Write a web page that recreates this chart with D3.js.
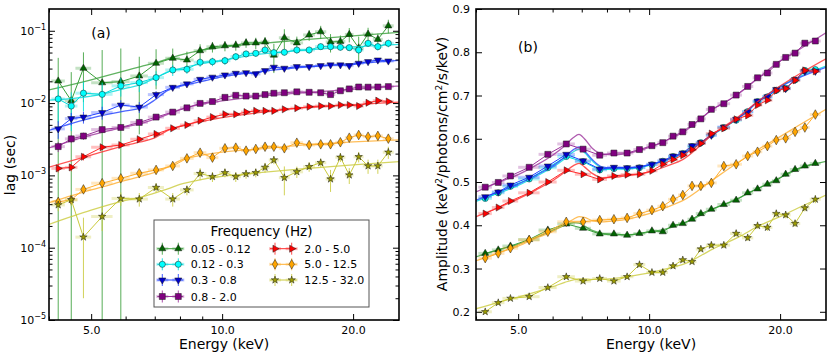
<!DOCTYPE html>
<html><head><meta charset="utf-8">
<script src="https://cdn.jsdelivr.net/npm/d3@7"></script>
<style>body{margin:0;background:#fff;} svg text{font-family:"DejaVu Sans",sans-serif;}</style>
</head><body><svg id="c" width="830" height="357"></svg>
<script>
// ---------- data ----------
const energy    = [4.2, 4.5, 4.8, 5.3, 5.85, 6.45, 7.05, 7.7, 8.3, 8.9, 9.5, 10.15, 10.75, 11.35, 11.95, 12.55, 13.15, 13.9, 14.85, 15.85, 16.85, 17.75, 18.7, 19.6, 20.6, 21.65, 22.8, 24.1];
const energyErr = [0.15, 0.15, 0.2, 0.3, 0.28, 0.3, 0.3, 0.3, 0.3, 0.3, 0.3, 0.3, 0.3, 0.3, 0.3, 0.3, 0.35, 0.4, 0.5, 0.5, 0.5, 0.45, 0.5, 0.45, 0.55, 0.6, 0.6, 0.7];
const freqLabels = ["0.05 - 0.12", "0.12 - 0.3", "0.3 - 0.8", "0.8 - 2.0", "2.0 - 5.0", "5.0 - 12.5", "12.5 - 32.0"];

// lags (sec)
const lag005 = [0.0202, 0.0108, 0.0303, 0.0191, 0.0198, 0.0237, 0.0355, 0.0417, 0.0394, 0.0530, 0.0600, 0.0620, 0.0630, 0.0680, 0.0680, 0.0700, 0.0460, 0.0800, 0.0680, 0.0875, 0.0970, 0.0700, 0.0710, 0.0890, 0.0580, 0.0900, 0.0760, 0.1170];
const lag012 = [0.0114, 0.0091, 0.0137, 0.0132, 0.0173, 0.0192, 0.0225, 0.0287, 0.0293, 0.0367, 0.0374, 0.0386, 0.0438, 0.0478, 0.0488, 0.0542, 0.0498, 0.0504, 0.0542, 0.0542, 0.0603, 0.0603, 0.0591, 0.0584, 0.0542, 0.0671, 0.0603, 0.0671];
const lag03  = [0.0044, 0.0061, 0.0064, 0.0074, 0.0094, 0.0088, 0.0131, 0.0165, 0.0184, 0.0213, 0.0228, 0.0245, 0.0258, 0.0263, 0.0253, 0.0281, 0.0313, 0.0303, 0.0319, 0.0319, 0.0329, 0.0337, 0.0337, 0.0329, 0.0355, 0.0374, 0.0394, 0.0382];
const lag08  = [0.0025, 0.0032, 0.0035, 0.0043, 0.0046, 0.0054, 0.0064, 0.0075, 0.0086, 0.0099, 0.0105, 0.0120, 0.0128, 0.0125, 0.0125, 0.0131, 0.0137, 0.0139, 0.0143, 0.0141, 0.0139, 0.0131, 0.0148, 0.0157, 0.0167, 0.0166, 0.0167, 0.0169];
const lag2   = [0.00125, 0.00129, 0.00181, 0.00245, 0.00263, 0.00316, 0.00374, 0.00448, 0.00498, 0.0057, 0.0064, 0.0070, 0.0070, 0.0075, 0.0078, 0.0078, 0.0078, 0.0082, 0.0085, 0.0089, 0.0091, 0.0091, 0.0094, 0.0094, 0.0091, 0.0101, 0.0108, 0.0105];
const lag5   = [0.00043, 0.00046, 0.00064, 0.00078, 0.00091, 0.00107, 0.00119, 0.00135, 0.00172, 0.00206, 0.00176, 0.00237, 0.00242, 0.00220, 0.00232, 0.00249, 0.00249, 0.00237, 0.00283, 0.00263, 0.00269, 0.00269, 0.00287, 0.00332, 0.00362, 0.00343, 0.00352, 0.00322];
const lag125 = [0.00039, 0.00046, 0.00014, 0.00027, 0.00048, 0.00047, 0.00068, 0.00047, 0.00063, 0.00106, 0.00096, 0.00109, 0.00096, 0.00105, 0.00109, 0.00129, 0.00163, 0.00093, 0.00112, 0.00132, 0.00150, 0.00089, 0.00178, 0.00101, 0.00181, 0.00135, 0.00135, 0.00209];

// lag errors (sec)
const lagErr005 = [0.022, 0.016, 0.020, 0.035, 0.037, 0.020, 0.020, 0.015, 0.012, 0.012, 0.010, 0.010, 0.010, 0.010, 0.012, 0.012, 0.020, 0.025, 0.015, 0.015, 0.020, 0.020, 0.015, 0.020, 0.025, 0.020, 0.015, 0.025];
const lagErr012 = [0.006, 0.005, 0.006, 0.006, 0.005, 0.005, 0.005, 0.005, 0.004, 0.005, 0.005, 0.005, 0.005, 0.005, 0.005, 0.005, 0.005, 0.005, 0.006, 0.006, 0.006, 0.006, 0.006, 0.006, 0.007, 0.007, 0.007, 0.008];
const lagErr03  = [0.0012, 0.0012, 0.0012, 0.0015, 0.0015, 0.0015, 0.0015, 0.0012, 0.0012, 0.0012, 0.0012, 0.0012, 0.0012, 0.0012, 0.0012, 0.0012, 0.0015, 0.0015, 0.0015, 0.0015, 0.0015, 0.0015, 0.0015, 0.0015, 0.0018, 0.0018, 0.0018, 0.0020];
const lagErr08  = [0.0004, 0.0004, 0.0004, 0.0004, 0.0004, 0.0004, 0.0004, 0.0004, 0.0004, 0.0004, 0.0004, 0.0005, 0.0005, 0.0005, 0.0005, 0.0005, 0.0005, 0.0005, 0.0005, 0.0005, 0.0005, 0.0006, 0.0006, 0.0006, 0.0006, 0.0006, 0.0006, 0.0007];
const lagErr2   = [0.00015, 0.00015, 0.0002, 0.0002, 0.0002, 0.0002, 0.0002, 0.00025, 0.00025, 0.0003, 0.0003, 0.0003, 0.0003, 0.0003, 0.0003, 0.0003, 0.0003, 0.0003, 0.0004, 0.0004, 0.0004, 0.0004, 0.0004, 0.0004, 0.0004, 0.0005, 0.0005, 0.0005];
const lagErr5   = [0.00005, 0.00005, 0.00006, 0.00006, 0.00007, 0.00008, 0.00008, 0.0001, 0.0001, 0.0001, 0.0001, 0.00012, 0.00012, 0.00012, 0.00012, 0.00012, 0.00012, 0.00012, 0.00015, 0.00015, 0.00015, 0.00015, 0.00015, 0.00018, 0.0002, 0.0002, 0.0002, 0.0002];
const lagErr125 = [0.00007, 0.00008, 0.00012, 0.0001, 0.0001, 0.0001, 0.0001, 0.0001, 0.0001, 0.0002, 0.00015, 0.00015, 0.00015, 0.00015, 0.00015, 0.0002, 0.0002, 0.0004, 0.0002, 0.0002, 0.0002, 0.0003, 0.00025, 0.00025, 0.0003, 0.0003, 0.0003, 0.0004];

// lag models
const lagModelEnergy = [4, 5, 6, 6.5, 7, 7.5, 8, 9, 10, 12, 15, 20, 25.5];
const lagModel005 = [0.0152, 0.021, 0.028, 0.032, 0.036, 0.041, 0.046, 0.054, 0.059, 0.066, 0.074, 0.085, 0.095];
const lagModel012 = [0.0110, 0.0125, 0.016, 0.018, 0.022, 0.027, 0.030, 0.035, 0.039, 0.047, 0.053, 0.060, 0.065];
const lagModel03  = [0.0042, 0.0062, 0.0078, 0.0085, 0.011, 0.015, 0.017, 0.020, 0.023, 0.027, 0.031, 0.035, 0.039];
const lagModel08  = [0.0024, 0.0036, 0.0047, 0.0052, 0.0060, 0.0070, 0.0082, 0.0097, 0.0107, 0.0123, 0.0137, 0.0155, 0.0172];
const lagModel2   = [0.0013, 0.0019, 0.0026, 0.0029, 0.0033, 0.0042, 0.0048, 0.0056, 0.0063, 0.0073, 0.0085, 0.0095, 0.0103];
const lagModel5   = [0.00042, 0.00063, 0.00085, 0.00097, 0.0011, 0.0013, 0.0016, 0.0019, 0.0021, 0.0023, 0.0026, 0.0029, 0.0031];
const lagModel125 = [0.00021, 0.00033, 0.00045, 0.0005, 0.00057, 0.00065, 0.00075, 0.00088, 0.00097, 0.00108, 0.00122, 0.0014, 0.00155];

// amplitudes (keV^2/photons/cm^2/s/keV)
const amp005 = [0.335, 0.343, 0.352, 0.367, 0.389, 0.403, 0.393, 0.380, 0.380, 0.377, 0.381, 0.387, 0.385, 0.400, 0.404, 0.414, 0.427, 0.437, 0.448, 0.458, 0.475, 0.484, 0.495, 0.503, 0.518, 0.529, 0.537, 0.543];
const amp012 = [0.462, 0.475, 0.490, 0.507, 0.533, 0.559, 0.547, 0.528, 0.531, 0.531, 0.533, 0.540, 0.548, 0.559, 0.566, 0.582, 0.591, 0.609, 0.626, 0.643, 0.663, 0.686, 0.697, 0.712, 0.717, 0.736, 0.758, 0.760];
const amp03  = [0.466, 0.477, 0.493, 0.511, 0.537, 0.564, 0.549, 0.530, 0.534, 0.533, 0.534, 0.541, 0.549, 0.560, 0.567, 0.584, 0.591, 0.608, 0.627, 0.645, 0.662, 0.687, 0.697, 0.714, 0.716, 0.737, 0.756, 0.756];
const amp08  = [0.488, 0.499, 0.514, 0.534, 0.564, 0.588, 0.576, 0.562, 0.567, 0.567, 0.575, 0.584, 0.591, 0.606, 0.616, 0.633, 0.646, 0.668, 0.681, 0.701, 0.721, 0.741, 0.752, 0.772, 0.788, 0.798, 0.821, 0.826];
const amp2   = [0.427, 0.441, 0.456, 0.475, 0.500, 0.527, 0.518, 0.506, 0.514, 0.517, 0.518, 0.526, 0.541, 0.552, 0.562, 0.575, 0.589, 0.612, 0.624, 0.645, 0.654, 0.678, 0.689, 0.711, 0.716, 0.735, 0.758, 0.756];
const amp5   = [0.324, 0.335, 0.347, 0.366, 0.385, 0.408, 0.408, 0.412, 0.414, 0.417, 0.427, 0.435, 0.444, 0.460, 0.470, 0.491, 0.491, 0.498, 0.537, 0.541, 0.560, 0.570, 0.583, 0.597, 0.601, 0.616, 0.626, 0.656];
const amp125 = [0.200, 0.221, 0.231, 0.235, 0.256, 0.281, 0.271, 0.277, 0.271, 0.281, 0.309, 0.291, 0.291, 0.306, 0.320, 0.316, 0.345, 0.354, 0.354, 0.381, 0.371, 0.399, 0.395, 0.427, 0.424, 0.404, 0.440, 0.460];
const ampErr     = [0.003, 0.003, 0.003, 0.003, 0.003, 0.003, 0.003, 0.003, 0.003, 0.003, 0.003, 0.003, 0.003, 0.003, 0.003, 0.003, 0.003, 0.004, 0.004, 0.004, 0.004, 0.004, 0.004, 0.004, 0.005, 0.005, 0.005, 0.005];
const ampErrHigh = [0.005, 0.005, 0.005, 0.005, 0.005, 0.005, 0.005, 0.005, 0.005, 0.005, 0.006, 0.006, 0.006, 0.006, 0.006, 0.006, 0.006, 0.007, 0.007, 0.007, 0.007, 0.007, 0.008, 0.008, 0.008, 0.008, 0.008, 0.009];

// amplitude models
const ampModelEnergy = [4.0, 4.5, 5.0, 5.5, 6.0, 6.4, 6.7, 6.9, 7.1, 7.4, 7.8, 8.3, 9, 10, 11, 12, 14, 16, 18, 20, 22, 25.5];
const ampModel005 = [0.327, 0.343, 0.356, 0.372, 0.388, 0.400, 0.406, 0.405, 0.398, 0.388, 0.381, 0.378, 0.378, 0.384, 0.392, 0.405, 0.437, 0.462, 0.488, 0.510, 0.530, 0.548];
const ampModel012 = [0.455, 0.474, 0.492, 0.513, 0.534, 0.554, 0.570, 0.576, 0.568, 0.549, 0.533, 0.530, 0.531, 0.539, 0.551, 0.566, 0.609, 0.647, 0.690, 0.721, 0.742, 0.768];
const ampModel03  = [0.458, 0.477, 0.495, 0.516, 0.537, 0.558, 0.575, 0.581, 0.572, 0.552, 0.535, 0.532, 0.533, 0.540, 0.552, 0.567, 0.610, 0.648, 0.690, 0.720, 0.740, 0.765];
const ampModel08  = [0.477, 0.499, 0.517, 0.539, 0.562, 0.584, 0.603, 0.610, 0.600, 0.578, 0.565, 0.563, 0.567, 0.580, 0.597, 0.616, 0.668, 0.703, 0.744, 0.780, 0.805, 0.845];
const ampModel2   = [0.420, 0.441, 0.461, 0.482, 0.503, 0.523, 0.538, 0.543, 0.535, 0.520, 0.510, 0.511, 0.515, 0.523, 0.537, 0.553, 0.610, 0.650, 0.690, 0.722, 0.748, 0.785];
const ampModel5   = [0.318, 0.336, 0.352, 0.370, 0.386, 0.402, 0.414, 0.420, 0.418, 0.411, 0.408, 0.410, 0.415, 0.427, 0.442, 0.458, 0.505, 0.545, 0.578, 0.605, 0.630, 0.668];
const ampModel125 = [0.207, 0.222, 0.234, 0.246, 0.258, 0.268, 0.274, 0.276, 0.276, 0.275, 0.275, 0.277, 0.282, 0.290, 0.300, 0.310, 0.345, 0.372, 0.400, 0.420, 0.440, 0.470];

// axis ticks
const energyMajorTicks = [5, 10, 20];
const energyMinorTicks = [4, 6, 7, 8, 9];
const lagDecades = [1e-5, 1e-4, 1e-3, 1e-2, 1e-1];
const ampTicks = [0.2, 0.3, 0.4, 0.5, 0.6, 0.7, 0.8, 0.9];

// ---------- styling table ----------
const series = [
  {name: freqLabels[0], lag: lag005, lagErr: lagErr005, lagModel: lagModel005, amp: amp005, ampErr: ampErr, ampModel: ampModel005, marker: "triUp",    fill: "#006400", line: "#3a9f3a"},
  {name: freqLabels[1], lag: lag012, lagErr: lagErr012, lagModel: lagModel012, amp: amp012, ampErr: ampErr, ampModel: ampModel012, marker: "circle",   fill: "#00ffff", line: "#00dcdc"},
  {name: freqLabels[2], lag: lag03,  lagErr: lagErr03,  lagModel: lagModel03,  amp: amp03,  ampErr: ampErr, ampModel: ampModel03,  marker: "triDown",  fill: "#0000cc", line: "#2040ff"},
  {name: freqLabels[3], lag: lag08,  lagErr: lagErr08,  lagModel: lagModel08,  amp: amp08,  ampErr: ampErr, ampModel: ampModel08,  marker: "square",   fill: "#800080", line: "#9c339c"},
  {name: freqLabels[4], lag: lag2,   lagErr: lagErr2,   lagModel: lagModel2,   amp: amp2,   ampErr: ampErr, ampModel: ampModel2,   marker: "triRight", fill: "#ff0000", line: "#ff2a2a"},
  {name: freqLabels[5], lag: lag5,   lagErr: lagErr5,   lagModel: lagModel5,   amp: amp5,   ampErr: ampErr, ampModel: ampModel5,   marker: "diamond",  fill: "#ffa500", line: "#ffae2e"},
  {name: freqLabels[6], lag: lag125, lagErr: lagErr125, lagModel: lagModel125, amp: amp125, ampErr: ampErrHigh, ampModel: ampModel125, marker: "star", fill: "#9c9c00", line: "#caca3c"}
];

// ---------- setup ----------
const svg = d3.select("#c");
const FONT = "DejaVu Sans, sans-serif";

const xL = d3.scaleLog().domain([4, 25.5]).range([49, 399]);
const yL = d3.scaleLog().domain([1e-5, 0.2]).range([320, 9]);
const xR = d3.scaleLog().domain([4, 25.5]).range([476, 826]);
const yR = d3.scaleLinear().domain([0.181, 0.9]).range([320, 9]);

const defs = svg.append("defs");
defs.append("clipPath").attr("id", "clipL").append("rect").attr("x", 49).attr("y", 9).attr("width", 350).attr("height", 311);
defs.append("clipPath").attr("id", "clipR").append("rect").attr("x", 476).attr("y", 9).attr("width", 350).attr("height", 311);

function markerPath(type) {
  switch (type) {
    case "triUp":    return d3.symbol(d3.symbolTriangle, 22)();
    case "triDown":  return d3.symbol(d3.symbolTriangle, 22)();
    case "triRight": return d3.symbol(d3.symbolTriangle, 22)();
    case "circle":   return d3.symbol(d3.symbolCircle, 30)();
    case "square":   return d3.symbol(d3.symbolSquare, 36)();
    case "star":     return d3.symbol(d3.symbolStar, 17)();
    case "diamond":  return "M0,-4.8L2.7,0L0,4.8L-2.7,0Z";
  }
}
function markerRot(type) {
  return type === "triDown" ? 180 : type === "triRight" ? 90 : 0;
}

function drawPanel(g, x, y, valueKey, errKey, modelKey, modelE, clipId, isLog) {
  const plot = g.append("g").attr("clip-path", `url(#${clipId})`);
  const ymin = y.domain()[0];
  series.forEach(s => {
    const vals = s[valueKey], errs = s[errKey];
    const pts = energy.map((e, i) => ({e, v: vals[i], err: errs[i], ee: energyErr[i]}));
    const sg = plot.append("g");
    sg.selectAll(".he").data(pts).join("line")
      .attr("x1", d => x(d.e - d.ee)).attr("x2", d => x(d.e + d.ee))
      .attr("y1", d => y(d.v)).attr("y2", d => y(d.v))
      .attr("stroke", s.line).attr("stroke-width", 3).attr("stroke-opacity", 0.3);
    sg.selectAll(".ve").data(pts).join("line")
      .attr("x1", d => x(d.e)).attr("x2", d => x(d.e))
      .attr("y1", d => y(d.v + d.err))
      .attr("y2", d => { const lo = d.v - d.err; return (isLog && lo <= ymin) ? y(ymin) + 5 : y(lo); })
      .attr("stroke", s.line).attr("stroke-width", 1).attr("stroke-opacity", 0.85);
    const mvals = s[modelKey];
    sg.append("path")
      .datum(modelE.map((e, i) => [e, mvals[i]]))
      .attr("d", d3.line().x(d => x(d[0])).y(d => y(d[1])).curve(d3.curveMonotoneX))
      .attr("fill", "none").attr("stroke", s.line).attr("stroke-width", 1.3).attr("stroke-opacity", 0.8);
    sg.append("path").datum(pts)
      .attr("d", d3.line().x(d => x(d.e)).y(d => y(d.v)))
      .attr("fill", "none").attr("stroke", s.line).attr("stroke-width", 1);
    sg.selectAll(".m").data(pts).join("path")
      .attr("d", markerPath(s.marker))
      .attr("transform", d => `translate(${x(d.e)},${y(d.v)}) rotate(${markerRot(s.marker)})`)
      .attr("fill", s.fill).attr("stroke", "#1a1a1a").attr("stroke-width", 0.5);
  });
}

function xAxes(g, x) {
  const bot = g.append("g").attr("transform", "translate(0,320)")
    .call(d3.axisBottom(x).tickValues(energyMajorTicks).tickFormat(d3.format(".1f")).tickSizeInner(-6).tickSizeOuter(0).tickPadding(6));
  bot.append("g").call(d3.axisBottom(x).tickValues(energyMinorTicks).tickFormat("").tickSizeInner(-3.5).tickSizeOuter(0));
  const top = g.append("g").attr("transform", "translate(0,9)")
    .call(d3.axisTop(x).tickValues(energyMajorTicks).tickFormat("").tickSizeInner(-6).tickSizeOuter(0));
  top.append("g").call(d3.axisTop(x).tickValues(energyMinorTicks).tickFormat("").tickSizeInner(-3.5).tickSizeOuter(0));
  return bot;
}

const gL = svg.append("g");
const gR = svg.append("g");

drawPanel(gL, xL, yL, "lag", "lagErr", "lagModel", lagModelEnergy, "clipL", true);
drawPanel(gR, xR, yR, "amp", "ampErr", "ampModel", ampModelEnergy, "clipR", false);

// ----- left axes -----
xAxes(gL, xL);
const lagMinor = [];
lagDecades.forEach(d => { for (let k = 2; k <= 9; k++) { const v = d * k; if (v < 0.2) lagMinor.push(v); } });
const lAx = gL.append("g").attr("transform", "translate(49,0)")
  .call(d3.axisLeft(yL).tickValues(lagDecades).tickFormat("").tickSizeInner(-6).tickSizeOuter(0));
lAx.append("g").call(d3.axisLeft(yL).tickValues(lagMinor).tickFormat("").tickSizeInner(-3.5).tickSizeOuter(0));
const rAxL = gL.append("g").attr("transform", "translate(399,0)")
  .call(d3.axisRight(yL).tickValues(lagDecades).tickFormat("").tickSizeInner(-6).tickSizeOuter(0));
rAxL.append("g").call(d3.axisRight(yL).tickValues(lagMinor).tickFormat("").tickSizeInner(-3.5).tickSizeOuter(0));
lagDecades.forEach(d => {
  const t = gL.append("text").attr("x", 46).attr("y", yL(d) + 4).attr("text-anchor", "end")
    .attr("font-size", 11).attr("fill", "#000");
  t.append("tspan").text("10");
  t.append("tspan").attr("dy", -5).attr("font-size", 8).text("\u2212" + Math.round(-Math.log10(d)));
});

// ----- right axes -----
xAxes(gR, xR);
gR.append("g").attr("transform", "translate(476,0)")
  .call(d3.axisLeft(yR).tickValues(ampTicks).tickFormat(d3.format(".1f")).tickSizeInner(-6).tickSizeOuter(0).tickPadding(6));
gR.append("g").attr("transform", "translate(826,0)")
  .call(d3.axisRight(yR).tickValues(ampTicks).tickFormat("").tickSizeInner(-6).tickSizeOuter(0));

svg.selectAll(".domain").remove();
svg.selectAll(".tick line").attr("stroke", "#000").attr("stroke-width", 1);
svg.selectAll(".tick text").attr("font-size", 11).attr("font-family", FONT).attr("fill", "#000");

// frames
[[49, 350], [476, 350]].forEach(([x0, w]) => {
  svg.append("rect").attr("x", x0).attr("y", 9).attr("width", w).attr("height", 311)
    .attr("fill", "none").attr("stroke", "#000").attr("stroke-width", 1.6);
});

// labels
svg.append("text").attr("x", 224).attr("y", 349).attr("text-anchor", "middle").attr("font-size", 14).text("Energy (keV)");
svg.append("text").attr("x", 651).attr("y", 349).attr("text-anchor", "middle").attr("font-size", 14).text("Energy (keV)");
svg.append("text").attr("transform", "translate(15,165) rotate(-90)").attr("text-anchor", "middle").attr("font-size", 14).text("lag (sec)");
const yLabR = svg.append("text").attr("transform", "translate(447,164) rotate(-90)").attr("text-anchor", "middle").attr("font-size", 14);
yLabR.append("tspan").text("Amplitude (keV");
yLabR.append("tspan").attr("dy", -5).attr("font-size", 9).text("2");
yLabR.append("tspan").attr("dy", 5).text("/photons/cm");
yLabR.append("tspan").attr("dy", -5).attr("font-size", 9).text("2");
yLabR.append("tspan").attr("dy", 5).text("/s/keV)");
svg.append("text").attr("x", 101).attr("y", 38).attr("text-anchor", "middle").attr("font-size", 14).text("(a)");
svg.append("text").attr("x", 528).attr("y", 52).attr("text-anchor", "middle").attr("font-size", 14).text("(b)");

// legend
const leg = svg.append("g");
leg.append("rect").attr("x", 154).attr("y", 220).attr("width", 215).attr("height", 87)
  .attr("fill", "#fff").attr("stroke", "#555").attr("stroke-width", 1);
leg.append("text").attr("x", 261.5).attr("y", 235.5).attr("text-anchor", "middle").attr("font-size", 13.5).text("Frequency (Hz)");
const rowsY = [248.7, 264.3, 280, 296.5];
series.forEach((s, i) => {
  const col = i < 4 ? 0 : 1;
  const row = i < 4 ? i : i - 4;
  const mx = col === 0 ? [162.3, 178.3] : [275, 291.7];
  const tx = col === 0 ? 190.7 : 304.3;
  const cy = rowsY[row];
  const eg = leg.append("g");
  eg.append("line").attr("x1", mx[0] - 5).attr("x2", mx[1] + 5).attr("y1", cy).attr("y2", cy)
    .attr("stroke", s.line).attr("stroke-width", 1);
  mx.forEach(px => {
    eg.append("line").attr("x1", px - 6).attr("x2", px + 6).attr("y1", cy).attr("y2", cy)
      .attr("stroke", s.line).attr("stroke-width", 3).attr("stroke-opacity", 0.3);
    eg.append("line").attr("x1", px).attr("x2", px).attr("y1", cy - 6).attr("y2", cy + 6)
      .attr("stroke", s.line).attr("stroke-width", 1).attr("stroke-opacity", 0.85);
    eg.append("path").attr("d", markerPath(s.marker))
      .attr("transform", `translate(${px},${cy}) rotate(${markerRot(s.marker)})`)
      .attr("fill", s.fill).attr("stroke", "#1a1a1a").attr("stroke-width", 0.5);
  });
  eg.append("text").attr("x", tx).attr("y", cy + 4).attr("font-size", 11).text(s.name);
});
</script>
</body></html>
